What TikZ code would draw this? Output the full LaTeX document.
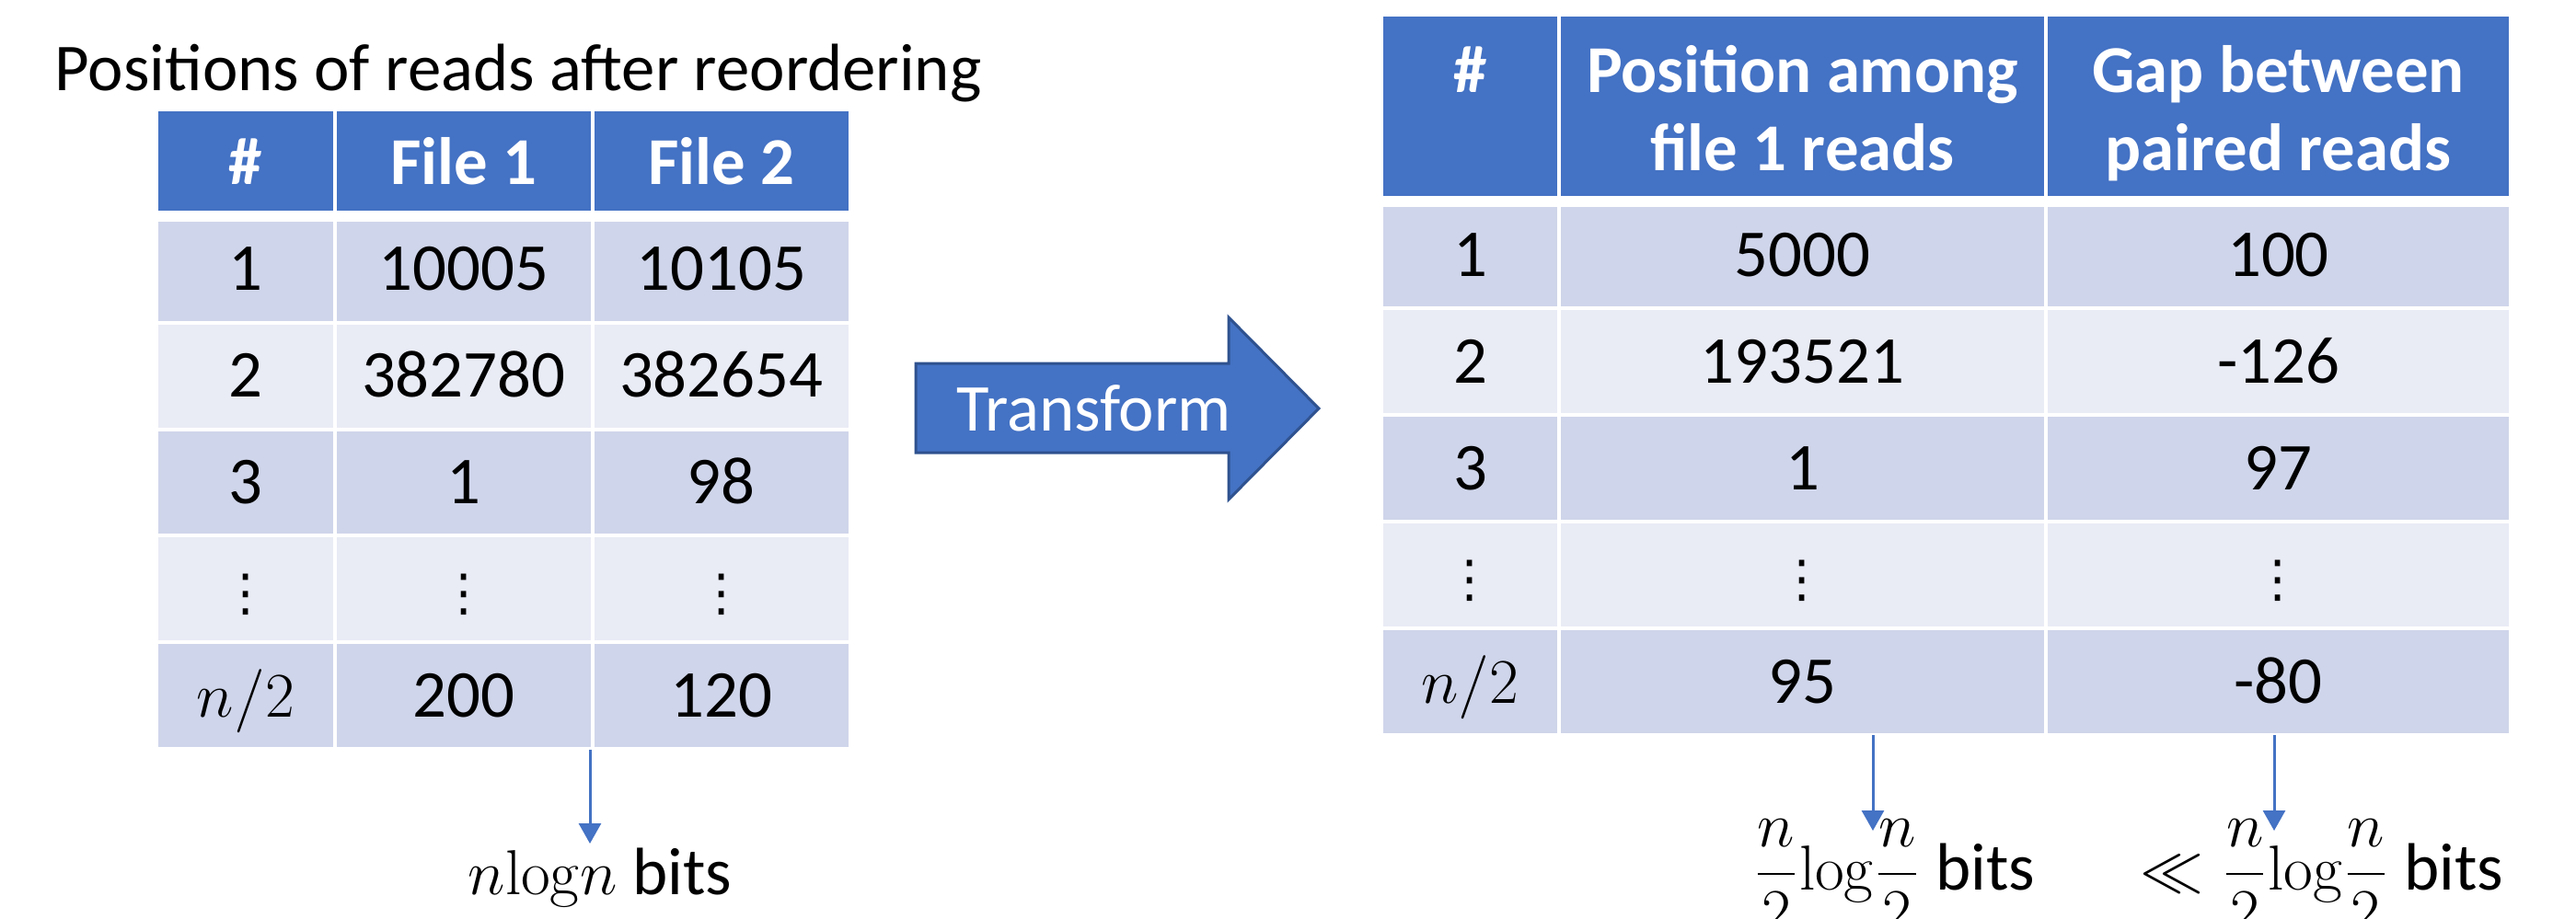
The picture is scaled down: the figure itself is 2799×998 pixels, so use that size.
\documentclass[tikz,border=0pt]{standalone}
\usepackage[no-math]{fontspec}
\setmainfont{Carlito}
\newfontfamily\dotsfont{DejaVu Sans}
\usetikzlibrary{arrows.meta}
\definecolor{hdr}{HTML}{4472C4}
\definecolor{bandA}{HTML}{CFD5EA}
\definecolor{bandB}{HTML}{E9EBF5}
\definecolor{arrowborder}{HTML}{2F528F}
\newcommand\tabfont{\fontsize{18.2}{21.5}\selectfont}
\newcommand\vd{{\dotsfont\fontsize{13.8}{16}\selectfont ⋮}}
\newcommand\mycell[7]{\node[#6, minimum width={(#4-#2)*0.25pt}, minimum height={(#5-#3)*0.25pt}] (#1) at (#2,#3) {#7};}
\begin{document}
\begin{tikzpicture}[x=0.25pt,y=-0.25pt,
  cell/.style={rectangle, draw=white, line width=1pt, inner sep=0pt, outer sep=0pt, anchor=north west, font=\tabfont, text height=11.5pt, text depth=0pt},
  hcell/.style={cell, fill=hdr, text=white, font=\tabfont\bfseries},
  acell/.style={cell, fill=bandA},
  bcell/.style={cell, fill=bandB},
  htxt/.style={font=\tabfont\bfseries, text=white, inner sep=0pt, anchor=base},
  lbl/.style={font=\tabfont, inner sep=0pt, anchor=base},
  arr/.style={draw=hdr, line width=0.75pt, -{Triangle[width=6pt,length=5.5pt]}},
  sep/.style={draw=white, line width=3pt}]
\useasboundingbox (0,0) rectangle (2799,998);
\clip (0,0) rectangle (2799,998);

% title
\node[font=\tabfont, inner sep=0pt, anchor=base west] (title) at (59,98) {Positions of reads after reordering};

% left table
\mycell{L00}{170}{119}{363.5}{235}{hcell}{\#}
\mycell{L01}{363.5}{119}{644}{235}{hcell}{File 1}
\mycell{L02}{644}{119}{923.5}{235}{hcell}{File 2}
\mycell{L10}{170}{235}{363.5}{350.8}{acell}{1}
\mycell{L11}{363.5}{235}{644}{350.8}{acell}{10005}
\mycell{L12}{644}{235}{923.5}{350.8}{acell}{10105}
\mycell{L20}{170}{350.8}{363.5}{466.6}{bcell}{2}
\mycell{L21}{363.5}{350.8}{644}{466.6}{bcell}{382780}
\mycell{L22}{644}{350.8}{923.5}{466.6}{bcell}{382654}
\mycell{L30}{170}{466.6}{363.5}{582.4}{acell}{3}
\mycell{L31}{363.5}{466.6}{644}{582.4}{acell}{1}
\mycell{L32}{644}{466.6}{923.5}{582.4}{acell}{98}
\mycell{L40}{170}{582.4}{363.5}{698.2}{bcell}{\vd}
\mycell{L41}{363.5}{582.4}{644}{698.2}{bcell}{\vd}
\mycell{L42}{644}{582.4}{923.5}{698.2}{bcell}{\vd}
\mycell{L50}{170}{698.2}{363.5}{814}{acell}{$n/2$}
\mycell{L51}{363.5}{698.2}{644}{814}{acell}{200}
\mycell{L52}{644}{698.2}{923.5}{814}{acell}{120}
\draw[sep] (L00.south west) -- (L02.south east);

% right table
\mycell{R00}{1501}{16}{1694}{219}{hcell}{}
\mycell{R01}{1694}{16}{2223}{219}{hcell}{}
\mycell{R02}{2223}{16}{2728}{219}{hcell}{}
\node[htxt] (R00t) at (1597.5,100) {\#};
\node[htxt] (R01a) at (1958.5,100) {Position among};
\node[htxt] (R01b) at (1958.5,185) {file 1 reads};
\node[htxt] (R02a) at (2475.5,100) {Gap between};
\node[htxt] (R02b) at (2475.5,185) {paired reads};
\mycell{R10}{1501}{219}{1694}{335}{acell}{1}
\mycell{R11}{1694}{219}{2223}{335}{acell}{5000}
\mycell{R12}{2223}{219}{2728}{335}{acell}{100}
\mycell{R20}{1501}{335}{1694}{451}{bcell}{2}
\mycell{R21}{1694}{335}{2223}{451}{bcell}{193521}
\mycell{R22}{2223}{335}{2728}{451}{bcell}{-126}
\mycell{R30}{1501}{451}{1694}{567}{acell}{3}
\mycell{R31}{1694}{451}{2223}{567}{acell}{1}
\mycell{R32}{2223}{451}{2728}{567}{acell}{97}
\mycell{R40}{1501}{567}{1694}{683}{bcell}{\vd}
\mycell{R41}{1694}{567}{2223}{683}{bcell}{\vd}
\mycell{R42}{2223}{567}{2728}{683}{bcell}{\vd}
\mycell{R50}{1501}{683}{1694}{799}{acell}{$n/2$}
\mycell{R51}{1694}{683}{2223}{799}{acell}{95}
\mycell{R52}{2223}{683}{2728}{799}{acell}{-80}
\draw[sep] (R00.south west) -- (R02.south east);

% transform arrow
\draw[fill=hdr, draw=arrowborder, line width=0.75pt]
  (995,395) -- (1335,395) -- (1335,345) -- (1433,444) -- (1335,543) -- (1335,492) -- (995,492) -- cycle;
\node[font=\tabfont, text=white, inner sep=0pt, anchor=base] (tf) at (1188.5,468) {Transform};

% bottom labels and arrows
\node[lbl] (nb) at (652,972) {$n\mathrm{log}n$ bits};
\node[lbl] (rb1) at (2058,967) {$\displaystyle\frac{n}{2}\mathrm{log}\frac{n}{2}$ bits};
\node[lbl] (rb2) at (2523,967) {$\displaystyle\ll\frac{n}{2}\mathrm{log}\frac{n}{2}$ bits};
\coordinate (a1s) at (641,815);
\coordinate (a1e) at (641,917);
\coordinate (a2s) at (2035,799);
\coordinate (a2e) at (2035,903);
\coordinate (a3s) at (2471,799);
\coordinate (a3e) at (2471,903);
\draw[arr] (a1s) -- (a1e);
\draw[arr] (a2s) -- (a2e);
\draw[arr] (a3s) -- (a3e);
\end{tikzpicture}
\end{document}
